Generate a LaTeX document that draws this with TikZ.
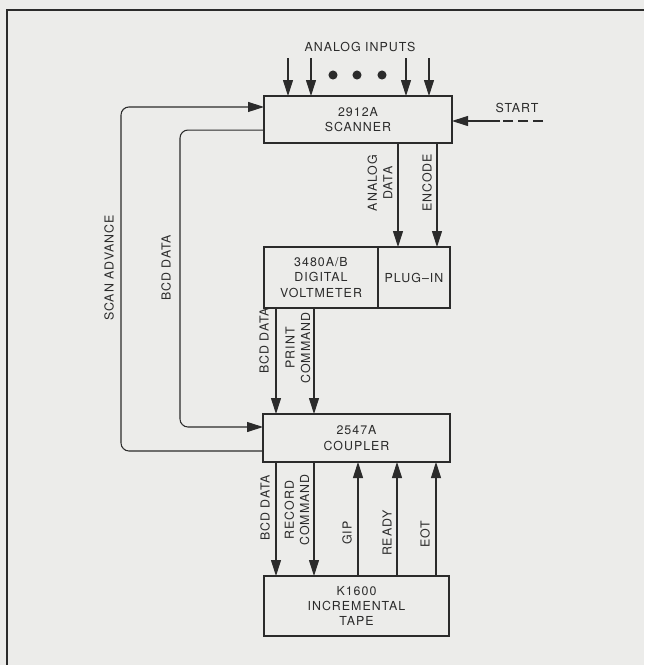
\documentclass[tikz,border=0pt]{standalone}
\usepackage{fontspec}
\setmainfont{TeX Gyre Heros}[LetterSpace=8]
\usetikzlibrary{arrows.meta}
\definecolor{paper}{HTML}{ECECEA}
\definecolor{ink}{HTML}{2B2B2B}
\begin{document}
\begin{tikzpicture}[x=0.75pt,y=-0.75pt,
  every node/.style={font=\fontsize{9.3}{11.5}\selectfont,text=ink},
  unit/.style={draw=ink,line width=1.5pt,inner sep=0pt,outer sep=0pt,align=center},
  sig/.style={draw=ink,line width=0.8pt,-{Triangle[length=12pt,width=7.5pt]}},
  lbl/.style={rotate=90,align=center}]
\useasboundingbox[fill=paper] (0,0) rectangle (644,665);
\draw[ink,line width=1.5pt] (7,665) -- (7,10) -- (644,10);

\node[unit,minimum width=141pt,minimum height=35.25pt] (scanner) at (358,119.5) {2912A\\SCANNER};
\node[unit,minimum width=85.5pt,minimum height=45.75pt] (dvm) at (321,277.5) {3480A/B\\DIGITAL\\VOLTMETER};
\node[unit,minimum width=54pt,minimum height=45.75pt] (plugin) at (414,277.5) {PLUG--IN};
\node[unit,minimum width=140.25pt,minimum height=36pt] (coupler) at (356.5,438) {2547A\\COUPLER};
\node[unit,minimum width=138.75pt,minimum height=45pt] (tape) at (356.5,606) {K1600\\INCREMENTAL\\TAPE};

\node (inputs) at (360,47) {ANALOG INPUTS};
\foreach \x [count=\i] in {288,311,406,429} {
  \coordinate (in\i) at (\x,58);
  \draw[sig] (in\i) -- (in\i |- scanner.north);
}
\foreach \x in {333,357,382}
  \fill[ink] (\x,75) circle (3.4pt);

\node (start) at (517,108) {START};
\coordinate (startend) at (543,121);
\coordinate (startmid) at (500,121);
\draw[ink,line width=0.8pt,dash pattern=on 7.5pt off 3.75pt] (startend) -- (startmid);
\draw[sig] (startmid) -- (scanner.east |- startmid);

\coordinate (sa) at (121,300);
\coordinate (bcdloop) at (180,300);
\draw[sig,rounded corners=6pt] ([yshift=-9.75pt]coupler.west) -| (sa) |- ([yshift=9.4pt]scanner.west);
\draw[sig,rounded corners=6pt] ([yshift=-7.9pt]scanner.west) -| (bcdloop) |- ([yshift=8.25pt]coupler.west);

\coordinate (ad) at (398,0);
\coordinate (enc) at (437,0);
\coordinate (bcd) at (276,0);
\coordinate (prt) at (314,0);
\coordinate (gip) at (358,0);
\coordinate (rdy) at (397,0);
\coordinate (eot) at (436,0);
\foreach \a/\b/\c in {scanner/plugin/ad,scanner/plugin/enc,dvm/coupler/bcd,dvm/coupler/prt,coupler/tape/bcd,coupler/tape/prt}
  \draw[sig] (\a.south -| \c) -- (\b.north -| \c);
\foreach \c in {gip,rdy,eot}
  \draw[sig] (tape.north -| \c) -- (coupler.south -| \c);

\node[lbl] (lsa) at (109,268) {SCAN ADVANCE};
\node[lbl] (lbcd) at (166,268) {BCD DATA};
\node[lbl] (lad) at (380,183) {ANALOG\\DATA};
\node[lbl] (lenc) at (427,183) {ENCODE};
\node[lbl] (lbcdm) at (264,341) {BCD DATA};
\node[lbl] (lprt) at (298,348) {PRINT\\COMMAND};
\node[lbl] (lbcdl) at (265,508) {BCD DATA};
\node[lbl] (lrec) at (297,510) {RECORD\\COMMAND};
\node[lbl] (lgip) at (347,533) {GIP};
\node[lbl] (lrdy) at (387,533) {READY};
\node[lbl] (leot) at (425,534) {EOT};
\end{tikzpicture}
\end{document}
